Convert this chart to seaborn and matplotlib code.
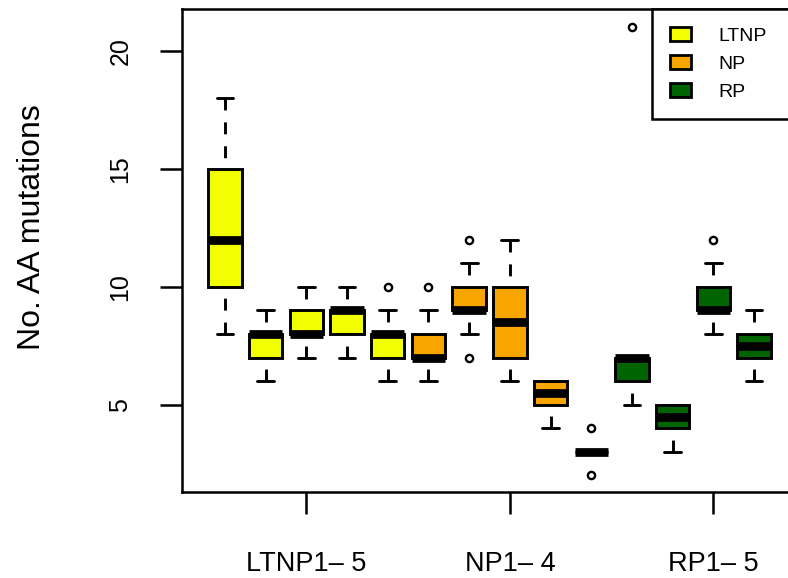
import pandas as pd
import seaborn as sns
import matplotlib.pyplot as plt
from matplotlib.patches import Patch

# observations per box (integer counts), estimated from the figure
ltnp_1 = [8, 10, 10, 12, 15, 15, 18]
ltnp_2 = [6, 7, 7, 8, 8, 8, 9]
ltnp_3 = [7, 8, 8, 8, 9, 9, 10]
ltnp_4 = [7, 8, 8, 9, 9, 9, 10]
ltnp_5 = [6, 7, 7, 8, 8, 8, 8, 9, 10]
np_1 = [6, 7, 7, 7, 7, 8, 8, 9, 10]
np_2 = [7, 8, 9, 9, 9, 10, 10, 11, 12]
np_3 = [6, 7, 7, 8, 9, 10, 10, 12]
np_4 = [4, 5, 5, 5, 6, 6, 6, 6]
rp_1 = [2, 3, 3, 3, 3, 3, 4]
rp_2 = [5, 6, 6, 7, 7, 7, 7, 7, 21]
rp_3 = [3, 4, 4, 4, 5, 5, 5, 5]
rp_4 = [8, 9, 9, 9, 9, 10, 10, 11, 12]
rp_5 = [6, 7, 7, 7, 8, 8, 8, 9]

groups = ["LTNP", "NP", "RP"]
group_colors = ["#f2ff00", "#f8a500", "#006400"]
tick_labels = ["LTNP1\u2013 5", "NP1\u2013 4", "RP1\u2013 5"]

boxes = [
    ("LTNP", ltnp_1), ("LTNP", ltnp_2), ("LTNP", ltnp_3), ("LTNP", ltnp_4), ("LTNP", ltnp_5),
    ("NP", np_1), ("NP", np_2), ("NP", np_3), ("NP", np_4),
    ("RP", rp_1), ("RP", rp_2), ("RP", rp_3), ("RP", rp_4), ("RP", rp_5),
]

rows = []
for i, (grp, vals) in enumerate(boxes):
    for v in vals:
        rows.append({"box": str(i + 1), "group": grp, "value": v})
df = pd.DataFrame(rows)
box_order = [str(i + 1) for i in range(len(boxes))]

sns.set_style("ticks")
plt.rcParams["font.family"] = ["Liberation Sans", "DejaVu Sans"]
plt.rcParams["lines.scale_dashes"] = False
plt.rcParams["text.color"] = "black"
plt.rcParams["axes.labelcolor"] = "black"
plt.rcParams["xtick.color"] = "black"
plt.rcParams["ytick.color"] = "black"

fig = plt.figure(figsize=(7.88, 5.78), dpi=100)
ax = fig.add_axes([182 / 788, 86 / 578, 615 / 788, 483 / 578])

sns.boxplot(data=df, x="box", y="value", hue="group", order=box_order,
            hue_order=groups, palette=group_colors, saturation=1, dodge=False,
            width=0.82, linecolor="black", linewidth=2.1, whis=1.5,
            legend=False, ax=ax,
            medianprops=dict(linewidth=6.3, solid_capstyle="butt"),
            whiskerprops=dict(linestyle=(0, (8.6, 8.6))),
            flierprops=dict(marker="o", markerfacecolor="none",
                            markeredgecolor="black", markersize=5.2,
                            markeredgewidth=1.7))

# R draws whiskers from the whisker end towards the box, so flip them
for ln in ax.lines:
    xd = list(ln.get_xdata())
    yd = list(ln.get_ydata())
    if len(xd) == 2 and xd[0] == xd[1]:
        ln.set_data(xd[::-1], yd[::-1])

ax.set_xlim(-1.06, 14.06)
ax.set_ylim(1.3, 21.78)
ax.set_yticks([5, 10, 15, 20])
ax.set_xticks([2, 7, 12], tick_labels)
ax.set_xlabel("")
ax.set_ylabel("No. AA mutations", fontsize=23)
ax.yaxis.set_label_coords(-0.22, 0.5476)

for s in ax.spines.values():
    s.set_visible(True)
    s.set_linewidth(1.8)
    s.set_color("black")
ax.tick_params(axis="both", length=15.8, width=1.8, color="black",
               labelsize=18, labelcolor="black", direction="out")
ax.tick_params(axis="x", labelsize=19.5, pad=26.5)
ax.tick_params(axis="y", pad=20)
for lbl in ax.get_yticklabels():
    lbl.set_rotation(90)
    lbl.set_va("center")

handles = [Patch(facecolor=c, edgecolor="black", linewidth=2.0, label=g)
           for g, c in zip(groups, group_colors)]
leg = ax.legend(handles=handles, loc="upper left",
                bbox_to_anchor=((652 - 182) / 615, 0, 1 - (652 - 182) / 615, 1),
                mode="expand", borderaxespad=0, fontsize=14, fancybox=False,
                framealpha=1, edgecolor="black", borderpad=0.95,
                handlelength=1.08, handleheight=0.72, handletextpad=1.39,
                labelspacing=0.52)
leg.get_frame().set_linewidth(1.8)

fig.savefig("out.png", dpi=100, facecolor="white")
